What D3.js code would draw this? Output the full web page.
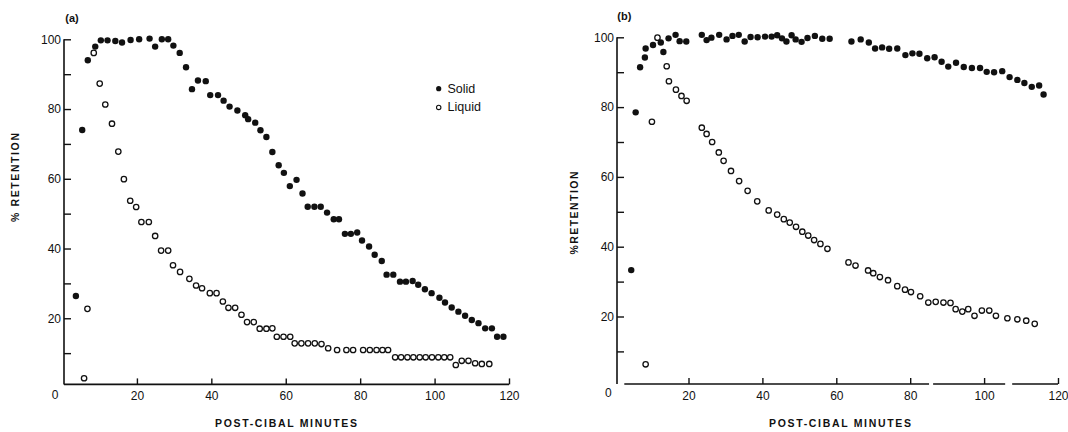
<!DOCTYPE html>
<html>
<head>
<meta charset="utf-8">
<script src="https://cdn.jsdelivr.net/npm/d3@7"></script>
<style>
  html, body { margin: 0; padding: 0; background: #fff; }
  svg { display: block; }
</style>
</head>
<body>
<svg id="chart" width="1068" height="432"></svg>
<script>
// ---------------- DATA (minutes, % retention) ----------------
const solidA = [[3.6,26.4],[5.3,74.0],[6.8,94.0],[8.8,97.9],[10.3,99.7],[12.1,99.7],[14.2,99.5],[16.0,99.1],[18.3,99.8],[20.6,100],[23.4,100.2],[24.9,97.9],[26.7,100],[28.4,100],[29.8,98.2],[31.5,96.1],[33.2,92.0],[34.8,85.7],[36.4,88.2],[38.5,88.0],[39.7,84.0],[41.8,84.0],[43.3,82.4],[44.9,80.7],[47.0,79.6],[49.1,78.2],[49.9,77.1],[51.8,76.1],[53.2,73.9],[54.8,72.0],[56.4,67.7],[58.1,63.9],[59.5,61.7],[61.1,57.9],[62.9,59.7],[64.5,55.8],[65.9,52],[67.7,52],[69.4,52],[71.1,50.3],[72.9,48.4],[74.3,48.4],[75.9,44.2],[77.5,44.2],[79.2,44.6],[80.5,42.3],[82.4,40.6],[83.9,38.2],[85.8,36.4],[87.1,32.5],[88.9,32.5],[90.7,30.5],[92.3,30.5],[94.1,30.7],[95.6,29.6],[97.4,28.3],[99.2,27.2],[101.3,25.9],[102.8,24.5],[104.6,23.1],[106.4,21.9],[108.2,20.7],[110.0,19.5],[111.8,18.6],[113.6,17.1],[115.4,17.1],[116.8,14.7],[118.5,14.7]];

const liquidA = [[5.8,2.8],[6.7,22.7],[8.4,96.1],[10.0,87.3],[11.5,81.3],[13.3,75.8],[15.0,67.8],[16.5,59.9],[18.2,53.7],[19.8,51.9],[21.2,47.6],[23.2,47.6],[24.9,43.6],[26.5,39.4],[28.4,39.4],[29.7,35.2],[31.6,33.3],[34.1,31.3],[35.9,29.4],[37.5,28.6],[39.6,27.2],[41.4,27.2],[43.1,24.8],[44.6,23.0],[46.4,23.0],[48.1,21.0],[49.6,18.9],[51.4,18.9],[53.0,17.0],[54.8,17.0],[56.4,17.1],[57.6,14.7],[59.4,14.7],[61.2,14.7],[62.4,12.8],[64.2,12.8],[66.0,12.8],[67.8,12.8],[69.6,12.6],[71.4,11.4],[73.8,10.9],[76.3,10.9],[78.1,10.9],[80.8,10.9],[82.6,10.9],[84.4,10.9],[86.0,10.9],[87.5,10.9],[89.4,8.8],[91.0,8.8],[92.7,8.8],[94.3,8.8],[96.0,8.8],[97.6,8.8],[99.3,8.8],[101.0,8.8],[102.6,8.8],[104.2,8.8],[105.7,6.6],[107.3,7.8],[109.1,7.8],[110.9,7.1],[112.7,6.9],[114.7,6.9]];

const solidB = [[4.5,33.3],[5.7,78.5],[6.9,91.4],[8.2,94.2],[8.4,96.8],[10.4,97.8],[12.5,98.5],[13.2,95.8],[14.6,99.7],[16.5,100.7],[17.6,98.9],[19.4,98.8],[23.6,100.7],[24.9,99.2],[26.2,99.9],[28.3,100.7],[30.3,99.4],[31.9,100.4],[33.6,100.7],[35.2,98.8],[36.8,100.1],[38.7,100],[40.7,100.2],[42.5,100.2],[44.0,100.6],[45.3,99.7],[46.5,98.8],[47.9,100.6],[49.0,99.4],[50.6,98.7],[52.2,99.8],[54.2,100.4],[56.2,99.6],[58.2,99.6],[64.1,98.8],[66.6,99.4],[68.8,98.5],[70.5,96.8],[72.4,97.1],[74.3,96.7],[76.5,96.8],[78.7,94.9],[80.6,95.4],[82.5,95.3],[84.6,94.0],[86.6,94.3],[88.5,93.0],[90.3,91.6],[92.4,92.7],[94.5,91.5],[96.7,91.2],[98.9,91.2],[100.7,90.1],[102.7,90.0],[104.9,90.3],[106.9,88.6],[109.0,87.8],[110.9,86.9],[112.9,85.8],[114.9,86.2],[116.1,83.6]];

const liquidB = [[8.4,6.3],[10.1,75.8],[11.6,99.9],[14.1,91.7],[14.7,87.4],[16.6,85.0],[18.1,83.2],[19.5,81.8],[23.6,74.1],[24.9,72.3],[26.4,70.0],[28.2,67.0],[29.5,64.6],[31.5,61.7],[33.7,58.8],[36.0,56.0],[38.6,53.0],[41.7,50.4],[44.0,49.2],[45.8,47.9],[47.4,46.9],[49.1,45.7],[50.8,44.3],[52.4,43.2],[54.0,41.9],[55.7,40.8],[57.6,39.4],[63.3,35.5],[65.2,34.6],[68.6,33.2],[70.0,32.4],[71.8,31.3],[74.0,30.4],[76.5,28.7],[78.6,27.7],[80.2,27.0],[82.7,25.8],[84.9,24.0],[86.9,24.2],[89.0,24.0],[90.9,23.9],[92.3,22.1],[94.1,21.4],[95.7,22.1],[97.4,20.2],[99.4,21.7],[101.4,21.7],[103.2,20.2],[106.3,19.5],[109.0,19.2],[111.4,18.8],[113.7,17.9]];

const xTicks = [20, 40, 60, 80, 100, 120];
const yTicks = [10, 20, 30, 40, 50, 60, 70, 80, 90, 100];
const yLabelled = [20, 40, 60, 80, 100];
const seriesNames = ["Solid", "Liquid"];
const xTitle = "POST-CIBAL MINUTES";
const yTitles = ["% RETENTION", "%RETENTION"];
const panelLabels = ["(a)", "(b)"];
// gaps in panel (b)'s x-axis line (minutes)
const axisGapsB = [[85.1, 86.2], [105.7, 107.6]];

// ---------------- DRAWING ----------------
const ink = "#111";
const svg = d3.select("#chart");
const tickFont = "'Liberation Sans', Arial, Helvetica, sans-serif";

const panels = [
  { label: panelLabels[0], labelPos: [72, 17.7], solid: solidA, liquid: liquidA,
    xRange: [62.5, 509], yRange: [388, 39.3], axisX: 64, axisY: 384.4, xStart: 64, xEnd: 509,
    gaps: [], zeroPos: [55, 395], yTitle: yTitles[0], yTitlePos: [18.8, 177.5], yTitleLen: 89,
    xTitlePos: [286, 427.3], legend: true },
  { label: panelLabels[1], labelPos: [624.3, 16], solid: solidB, liquid: liquidB,
    xRange: [614.6, 1058], yRange: [386.3, 37.3], axisX: 617, axisY: 384, xStart: 624.3, xEnd: 1058,
    gaps: axisGapsB, zeroPos: [608.3, 392.5], yTitle: yTitles[1], yTitlePos: [577.8, 213], yTitleLen: 83,
    xTitlePos: [840, 427.3], legend: false }
];

panels.forEach(p => {
  const x = d3.scaleLinear().domain([0, 120]).range(p.xRange);
  const y = d3.scaleLinear().domain([0, 100]).range(p.yRange);
  const g = svg.append("g");

  // Y axis
  const yAxis = d3.axisLeft(y).tickValues(yTicks).tickSizeInner(-7).tickSizeOuter(0)
    .tickPadding(3).tickFormat(d => yLabelled.includes(d) ? d : "");
  const gy = g.append("g").attr("transform", `translate(${p.axisX},0)`).call(yAxis);
  gy.select(".domain").remove();
  gy.selectAll(".tick line").attr("stroke", ink).attr("stroke-width", 1.4);
  gy.selectAll(".tick text").attr("fill", ink).style("font-family", tickFont).style("font-size", "12px");
  g.append("line").attr("x1", p.axisX).attr("x2", p.axisX)
    .attr("y1", y(100)).attr("y2", p.axisY)
    .attr("stroke", ink).attr("stroke-width", 1.6);

  // X axis
  const xAxis = d3.axisBottom(x).tickValues(xTicks).tickSizeInner(-6).tickSizeOuter(0).tickPadding(7);
  const gx = g.append("g").attr("transform", `translate(0,${p.axisY})`).call(xAxis);
  gx.select(".domain").remove();
  gx.selectAll(".tick line").attr("stroke", ink).attr("stroke-width", 1.4);
  gx.selectAll(".tick text").attr("fill", ink).style("font-family", tickFont).style("font-size", "12px");

  // x axis line segments (with gaps)
  const bounds = [x.invert(p.xStart)];
  p.gaps.forEach(gp => { bounds.push(gp[0]); bounds.push(gp[1]); });
  bounds.push(x.invert(p.xEnd));
  const segs = [];
  for (let i = 0; i < bounds.length; i += 2) segs.push([bounds[i], bounds[i + 1]]);
  g.selectAll("line.xseg").data(segs).join("line").attr("class", "xseg")
    .attr("x1", d => x(d[0])).attr("x2", d => x(d[1]))
    .attr("y1", p.axisY).attr("y2", p.axisY)
    .attr("stroke", ink).attr("stroke-width", 1.6);

  // origin "0"
  g.append("text").attr("x", p.zeroPos[0]).attr("y", p.zeroPos[1])
    .attr("text-anchor", "middle").attr("dominant-baseline", "central")
    .style("font-family", tickFont).style("font-size", "12px").attr("fill", ink).text("0");

  // Titles
  g.append("text").attr("x", p.xTitlePos[0]).attr("y", p.xTitlePos[1])
    .attr("text-anchor", "middle").style("font-family", tickFont).style("font-size", "10.5px")
    .style("font-weight", "bold").attr("fill", ink)
    .attr("textLength", 142).attr("lengthAdjust", "spacing").text(xTitle);
  g.append("text").attr("transform", `translate(${p.yTitlePos[0]},${p.yTitlePos[1]}) rotate(-90)`)
    .attr("text-anchor", "middle").style("font-family", tickFont).style("font-size", "10.5px")
    .style("font-weight", "bold").attr("fill", ink)
    .attr("textLength", p.yTitleLen).attr("lengthAdjust", "spacing").text(p.yTitle);
  g.append("text").attr("x", p.labelPos[0]).attr("y", p.labelPos[1])
    .attr("text-anchor", "middle").attr("dominant-baseline", "central")
    .style("font-family", tickFont).style("font-size", "11px").style("font-weight", "bold")
    .attr("fill", ink).text(p.label);

  // Points
  g.selectAll("circle.liq").data(p.liquid).join("circle").attr("class", "liq")
    .attr("cx", d => x(d[0])).attr("cy", d => y(d[1])).attr("r", 2.7)
    .attr("fill", "#fff").attr("stroke", ink).attr("stroke-width", 1.3);
  g.selectAll("circle.sol").data(p.solid).join("circle").attr("class", "sol")
    .attr("cx", d => x(d[0])).attr("cy", d => y(d[1])).attr("r", 3.2)
    .attr("fill", ink);

  // Legend
  if (p.legend) {
    const lg = g.append("g");
    const items = seriesNames.map((n, i) => ({ name: n, i }));
    const rows = [88.7, 107.4];
    lg.selectAll("circle").data(items).join("circle")
      .attr("cx", 438.7).attr("cy", d => rows[d.i])
      .attr("r", d => d.i === 0 ? 2.6 : 2.2)
      .attr("fill", d => d.i === 0 ? ink : "#fff")
      .attr("stroke", ink).attr("stroke-width", d => d.i === 0 ? 0 : 1.1);
    lg.selectAll("text").data(items).join("text")
      .attr("x", 447.5).attr("y", d => rows[d.i]).attr("dominant-baseline", "central")
      .style("font-family", tickFont).style("font-size", "12.5px").attr("fill", ink)
      .text(d => d.name);
  }
});
</script>
</body>
</html>
